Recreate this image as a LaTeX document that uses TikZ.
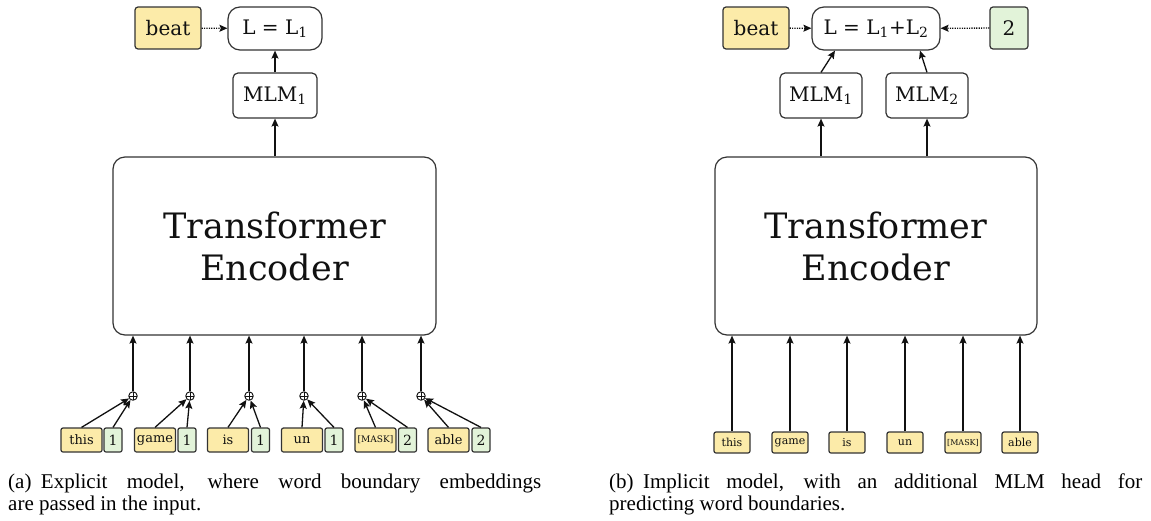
\documentclass[tikz,border=0pt]{standalone}
\usepackage{fontspec}
\setmainfont{DejaVu Serif}
\newfontfamily\capfont{Liberation Serif}
\usetikzlibrary{arrows.meta,calc}
\definecolor{yel}{HTML}{FCEBA9}
\definecolor{grn}{HTML}{E2F3D9}
\definecolor{edge}{HTML}{333333}
\definecolor{ink}{HTML}{111111}
\tikzset{
  box/.style={draw=edge, line width=1.2pt, text=ink, inner sep=0pt, align=center},
  ybox/.style={box, fill=yel, rounded corners=3pt},
  gbox/.style={box, fill=grn, rounded corners=3pt},
  wbox/.style={box, fill=white, rounded corners=5pt},
  lossbox/.style={box, fill=white, rounded corners=12pt, minimum height=43pt},
  encbox/.style={box, fill=white, rounded corners=12pt, minimum width=323pt, minimum height=178pt, font=\fontsize{35}{42}\selectfont},
  bigf/.style={font=\fontsize{20}{24}\selectfont},
  tokl/.style={ybox, rounded corners=2pt, minimum width=41pt, minimum height=24pt, font=\fontsize{13}{15}\selectfont},
  numl/.style={gbox, rounded corners=2pt, minimum width=18pt, minimum height=24pt, font=\fontsize{14}{16}\selectfont},
  tokr/.style={ybox, rounded corners=2pt, minimum width=36pt, minimum height=21pt, font=\fontsize{11}{13}\selectfont},
  arr/.style={draw=ink, line width=1.3pt, -{Stealth[length=8pt,width=7pt,inset=1.5pt]}},
  darr/.style={arr, dash pattern=on 1.2pt off 1.2pt},
  oplus/.style={circle, draw=ink, line width=0.9pt, fill=white, minimum size=8.5pt, inner sep=0pt,
    path picture={\draw[ink, line width=0.8pt] (path picture bounding box.north) -- (path picture bounding box.south) (path picture bounding box.west) -- (path picture bounding box.east);}},
  captext/.style={font=\capfont\fontsize{21}{25}\selectfont, text=black, inner sep=0pt, anchor=base west}
}
\begin{document}
\begin{tikzpicture}[x=1pt,y=-1pt]
\useasboundingbox (0,0) rectangle (1151,520);

% ---------- left panel ----------
\node[ybox, bigf, minimum width=66pt, minimum height=42pt] (beatA) at (168,28) {beat};
\node[lossbox, bigf, minimum width=94pt] (lossA) at (275,28.5) {L = L\textsubscript{1}};
\node[wbox, bigf, minimum width=84pt, minimum height=45pt] (mlmA) at (275,95.5) {MLM\textsubscript{1}};
\node[encbox] (encA) at (274.5,246) {Transformer\\Encoder};
\draw[darr] (beatA) -- (lossA);
\draw[arr] (mlmA) -- (lossA);
\draw[arr] (encA.north -| mlmA) -- (mlmA);

\foreach \i/\w/\wx/\nx/\n/\ox in {1/this/81.5/113/1/133, 2/game/155/187/1/190, 3/is/228/260.5/1/249, 4/un/302/334/1/304, 5/{\fontsize{9}{10}\selectfont[MASK]}/375.5/407.5/2/362, 6/able/448.5/481/2/421}{
  \node[tokl] (wA\i) at (\wx,440) {\w};
  \node[numl] (nA\i) at (\nx,440) {\n};
  \node[oplus] (oA\i) at (\ox,396) {};
  \draw[arr] (wA\i.north) -- (oA\i);
  \draw[arr] (nA\i.north) -- (oA\i);
  \draw[arr] (oA\i) -- (oA\i |- encA.south);
}

% ---------- right panel ----------
\node[ybox, bigf, minimum width=66pt, minimum height=42pt] (beatB) at (756,28) {beat};
\node[lossbox, bigf, minimum width=128pt] (lossB) at (876,28.5) {L = L\textsubscript{1}+L\textsubscript{2}};
\node[gbox, bigf, minimum width=38pt, minimum height=42pt] (twoB) at (1009,28) {2};
\node[wbox, bigf, minimum width=82pt, minimum height=45pt] (mlmB1) at (821,95.5) {MLM\textsubscript{1}};
\node[wbox, bigf, minimum width=82pt, minimum height=45pt] (mlmB2) at (927,95.5) {MLM\textsubscript{2}};
\node[encbox, minimum width=322pt] (encB) at (876,246) {Transformer\\Encoder};
\draw[darr] (beatB) -- (lossB);
\draw[darr] (twoB) -- (lossB);
\draw[arr] (mlmB1.north) -- ([xshift=-41pt]lossB.south);
\draw[arr] (mlmB2.north) -- ([xshift=44pt]lossB.south);
\draw[arr] (encB.north -| mlmB1) -- (mlmB1);
\draw[arr] (encB.north -| mlmB2) -- (mlmB2);

\foreach \i/\w/\wx in {1/this/732, 2/game/790, 3/is/847, 4/un/905, 5/{\fontsize{8}{9}\selectfont[MASK]}/963, 6/able/1020}{
  \node[tokr] (wB\i) at (\wx,442.5) {\w};
  \draw[arr] (wB\i.north) -- (wB\i.north |- encB.south);
}

% ---------- captions ----------
\node[captext] (capA1) at (8,488) {\makebox[533pt][s]{(a)\hspace{0.45em}Explicit model, where word boundary embeddings}};
\node[captext] (capA2) at (8,510) {are passed in the input.};
\node[captext] (capB1) at (609,488) {\makebox[533pt][s]{(b)\hspace{0.45em}Implicit model, with an additional MLM head for}};
\node[captext] (capB2) at (609,510) {predicting word boundaries.};
\end{tikzpicture}
\end{document}
